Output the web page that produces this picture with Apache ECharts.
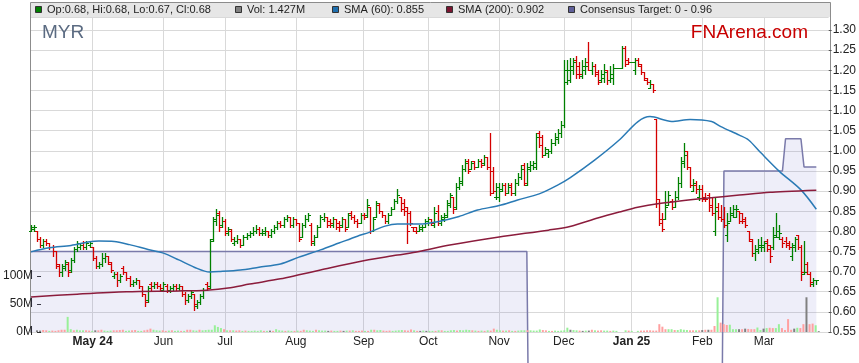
<!DOCTYPE html>
<html><head><meta charset="utf-8">
<script src="https://cdn.jsdelivr.net/npm/echarts@6/dist/echarts.min.js"></script>
<style>html,body{margin:0;padding:0;background:#fff}#c{width:859px;height:363px}</style>
</head><body><div id="c"></div>
<script>
// ---- data -------------------------------------------------------------
// trading calendar: every weekday from first to last day (axis runs to Apr 1 2025)
const FIRST_DAY = '2024-04-03';
const LAST_DAY = '2025-04-01';
const LAST_LABEL_DAY = '2025-03-26';
const categories = (function () {
  const out = [];
  const d = new Date(FIRST_DAY + 'T00:00:00Z');
  const end = new Date(LAST_DAY + 'T00:00:00Z');
  while (d <= end) {
    const wd = d.getUTCDay();
    if (wd !== 0 && wd !== 6) out.push(d.toISOString().slice(0, 10));
    d.setUTCDate(d.getUTCDate() + 1);
  }
  return out;
})();

// daily bars [open, high, low, close], from 2024-04-03
const ohlc = [
[.80,.815,.80,.81],[.805,.815,.80,.81],[.80,.80,.775,.78],[.78,.785,.76,.765],[.765,.78,.76,.775],[.775,.78,.765,.77],[.77,.77,.755,.76],[.76,.765,.74,.75],[.75,.75,.71,.715],[.72,.72,.69,.70],
[.70,.72,.69,.715],[.71,.73,.705,.725],[.72,.725,.69,.70],[.705,.735,.70,.73],[.73,.76,.725,.755],[.755,.775,.75,.77],[.76,.77,.755,.765],[.77,.775,.755,.76],[.76,.775,.755,.77],[.765,.775,.76,.77],
[.76,.76,.73,.735],[.735,.74,.71,.715],[.715,.725,.71,.72],[.72,.745,.715,.735],[.735,.745,.725,.74],[.74,.74,.72,.725],[.72,.725,.70,.705],[.69,.70,.685,.695],[.695,.70,.665,.68],[.68,.695,.675,.69],
[.71,.715,.695,.70],[.70,.70,.68,.685],[.685,.69,.665,.67],[.67,.68,.665,.675],[.675,.685,.67,.68],[.68,.68,.66,.665],[.665,.665,.64,.645],[.645,.645,.615,.625],[.63,.665,.625,.66],[.67,.675,.655,.665],
[.665,.675,.66,.67],[.67,.675,.66,.665],[.665,.67,.655,.66],[.655,.675,.655,.67],[.665,.67,.65,.655],[.655,.665,.65,.66],[.66,.67,.655,.665],[.665,.67,.655,.66],[.66,.67,.655,.665],[.665,.665,.64,.645],
[.645,.65,.62,.63],[.63,.645,.625,.64],[.64,.655,.635,.65],[.645,.645,.605,.62],[.615,.63,.61,.625],[.625,.645,.62,.64],[.64,.66,.635,.655],[.67,.675,.655,.66],[.665,.78,.66,.775],[.78,.835,.775,.83],
[.825,.855,.815,.84],[.845,.85,.80,.81],[.815,.835,.81,.825],[.825,.83,.79,.80],[.795,.81,.79,.805],[.80,.805,.775,.78],[.77,.785,.765,.775],[.775,.79,.77,.78],[.78,.78,.76,.765],[.765,.79,.765,.785],
[.785,.795,.78,.79],[.79,.80,.785,.795],[.795,.81,.79,.80],[.80,.815,.795,.805],[.805,.81,.79,.795],[.795,.805,.79,.80],[.795,.81,.79,.80],[.80,.80,.785,.79],[.79,.805,.785,.80],[.80,.815,.795,.81],
[.81,.825,.805,.82],[.82,.825,.81,.815],[.815,.835,.81,.83],[.83,.84,.825,.835],[.835,.835,.81,.815],[.815,.835,.81,.83],[.83,.83,.815,.82],[.82,.82,.775,.78],[.785,.82,.785,.815],[.815,.84,.81,.83],
[.83,.845,.825,.84],[.815,.82,.765,.775],[.77,.79,.765,.785],[.785,.815,.785,.81],[.81,.84,.81,.835],[.83,.845,.825,.835],[.835,.835,.81,.815],[.825,.83,.81,.82],[.815,.835,.81,.83],[.83,.83,.805,.81],
[.82,.825,.80,.81],[.815,.835,.81,.83],[.83,.83,.80,.805],[.81,.845,.81,.84],[.845,.85,.83,.835],[.835,.84,.82,.825],[.825,.83,.81,.82],[.82,.845,.82,.84],[.84,.845,.83,.835],[.84,.88,.835,.865],
[.86,.86,.795,.80],[.80,.835,.80,.83],[.835,.875,.835,.87],[.865,.87,.845,.85],[.85,.85,.835,.84],[.84,.84,.82,.825],[.825,.845,.82,.84],[.84,.86,.84,.855],[.855,.88,.855,.875],[.875,.905,.87,.89],
[.885,.885,.85,.855],[.87,.88,.84,.85],[.86,.86,.77,.80],[.845,.85,.815,.82],[.81,.81,.80,.80],[.81,.81,.795,.80],[.80,.815,.80,.81],[.805,.815,.80,.81],[.81,.83,.81,.825],[.82,.835,.815,.83],
[.83,.83,.815,.82],[.815,.86,.81,.845],[.85,.865,.815,.82],[.82,.84,.815,.835],[.83,.845,.825,.84],[.835,.877,.835,.87],[.865,.895,.86,.89],[.885,.885,.845,.855],[.86,.92,.855,.91],[.91,.935,.905,.925],
[.92,.965,.915,.955],[.955,.98,.95,.97],[.975,.98,.945,.95],[.955,.975,.955,.97],[.975,.975,.955,.96],[.96,.98,.96,.975],[.975,.98,.96,.965],[.97,.99,.965,.985],[.985,.985,.955,.96],[.96,1.045,.89,.895],
[.95,.96,.895,.90],[.885,.92,.88,.91],[.885,.92,.875,.905],[.90,.92,.90,.915],[.915,.92,.89,.895],[.895,.92,.895,.91],[.915,.92,.89,.895],[.895,.93,.89,.92],[.92,.945,.915,.935],[.935,.965,.93,.955],
[.965,.97,.915,.92],[.915,.97,.915,.96],[.955,.975,.95,.965],[.965,.975,.955,.97],[.96,1.045,.955,1.035],[1.045,1.05,1.01,1.015],[1.035,1.04,.985,.99],[.99,1.01,.99,1.005],[.995,1.005,.985,1.0],[1.0,1.03,.995,1.02],
[1.02,1.045,1.015,1.035],[1.03,1.055,1.02,1.045],[1.045,1.075,1.035,1.065],[1.065,1.225,1.06,1.20],[1.17,1.225,1.165,1.20],[1.175,1.23,1.17,1.21],[1.20,1.23,1.19,1.22],[1.225,1.235,1.18,1.19],[1.21,1.22,1.18,1.19],[1.185,1.225,1.18,1.21],
[1.20,1.23,1.19,1.21],[1.22,1.27,1.20,1.20],[1.20,1.22,1.19,1.21],[1.21,1.215,1.185,1.19],[1.195,1.20,1.165,1.17],[1.175,1.20,1.17,1.19],[1.18,1.215,1.17,1.195],[1.20,1.20,1.165,1.175],[1.175,1.21,1.17,1.19],[1.18,1.215,1.165,1.205],
[1.205,1.205,1.205,1.205],[1.205,1.205,1.205,1.205],[1.205,1.26,1.205,1.255],[1.255,1.26,1.21,1.215],[1.225,1.23,1.215,1.22],[1.22,1.22,1.22,1.22],[1.20,1.23,1.19,1.225],[1.225,1.23,1.21,1.215],[1.21,1.215,1.19,1.195],[1.195,1.195,1.175,1.18],
[1.175,1.18,1.165,1.17],[1.155,1.175,1.155,1.165],[1.165,1.165,1.145,1.15],[1.08,1.08,.86,.87],[.88,.88,.815,.82],[.83,.845,.80,.805],[.83,.90,.83,.86],[.865,.90,.865,.89],[.875,.88,.855,.86],[.86,.90,.86,.885],
[.885,.935,.88,.92],[.92,.985,.91,.97],[.975,1.02,.96,.99],[1.0,1.0,.955,.96],[.96,.96,.91,.915],[.90,.93,.90,.92],[.915,.925,.895,.905],[.885,.915,.878,.905],[.905,.915,.875,.88],[.885,.895,.875,.88],
[.89,.895,.85,.86],[.865,.885,.84,.845],[.80,.885,.79,.85],[.86,.87,.83,.835],[.835,.865,.825,.83],[.83,.86,.81,.815],[.79,.845,.775,.82],[.825,.86,.825,.845],[.84,.865,.835,.855],[.835,.865,.835,.855],
[.85,.85,.82,.825],[.845,.845,.82,.825],[.83,.835,.81,.815],[.80,.80,.775,.78],[.775,.78,.74,.745],[.745,.765,.73,.755],[.75,.78,.745,.765],[.76,.785,.75,.765],[.76,.775,.75,.77],[.775,.78,.75,.755],
[.765,.765,.725,.74],[.76,.81,.755,.79],[.785,.845,.785,.80],[.785,.815,.78,.795],[.78,.785,.76,.77],[.775,.785,.76,.765],[.77,.775,.755,.76],[.74,.77,.73,.76],[.765,.785,.75,.78],[.79,.79,.755,.76],
[.76,.765,.68,.70],[.695,.775,.695,.70],[.72,.725,.695,.695],[.695,.70,.665,.675],[.67,.685,.665,.68],[.68,.68,.67,.68]
];

// daily volume, millions of shares
const volumeM = [
3,2.5,3.5,3,2,2.5,2,3,4,4, 27,5,3,4,3,3,3,2.5,2,3, 3,4,2.5,2,2.5,3,3,3.5,4,2, 2.5,3,3.5,2,2,3,4,6,4,3,
2.5,3,2,2.5,3,2,2.5,2,2,4, 4,3,2.5,4,3,3.5,4,4,12,9, 7,5,3,3,3,2.5,3,2,2.5,2, 2,2.5,2,3,2,2,2.5,2,5,3,
2.5,2,2.5,2,2,2.5,2,4,3,2.5, 2,4,3,2.5,2.5,2,2.5,2,2,2.5, 2,2.5,2.5,3,2,2,2.5,2,2,4, 4,3,3.5,2.5,2,2.5,2,2.5,3,3.5,
3,2.5,4.5,3,2,2,2.5,2,2,2, 2,3,3,2,2,3,3.5,2.5,3.5,3, 4,3.5,3,2.5,2,2.5,2,3,2.5,6, 4,3,2.5,2.5,3,2,2,2.5,3,3,
3,3,2.5,2.5,4.5,3.5,3,2,2,2.5, 2,2.5,3,7.7,4,3.5,3,2.5,2,2.5, 2.5,4,3,2.5,3,2.5,2.5,2,2.5,2, 0,0,3,2.5,2,0,2,2.5,2.5,3,
3,2.5,2.5,14,9.5,5,5,5,3.5,3.5, 5,4,3.5,3,3,3,3,3.5,4,4, 4,10.7,62,16.7,14,12.5,13,5,5,5, 5,6,5.5,5,5,8,3.5,6,7,7.5,
7,7,14,7,3.5,23,4,6,7.5,7, 14,62,14,15,12,1.427
];

// moving averages [date, value]
const sma60 = [
['2024-04-03',.749],['2024-04-11',.759],['2024-04-22',.765],['2024-04-30',.774],['2024-05-03',.776],['2024-05-10',.775],
['2024-05-17',.767],['2024-05-27',.755],['2024-06-03',.746],['2024-06-10',.729],['2024-06-17',.711],['2024-06-24',.699],
['2024-06-27',.700],['2024-07-08',.704],['2024-07-16',.711],['2024-07-25',.719],['2024-08-02',.736],['2024-08-13',.754],
['2024-08-21',.771],['2024-08-29',.788],['2024-09-04',.798],['2024-09-11',.813],['2024-09-17',.818],['2024-09-26',.818],
['2024-10-04',.824],['2024-10-15',.837],['2024-10-23',.853],['2024-11-01',.864],['2024-11-11',.878],['2024-11-20',.893],
['2024-11-28',.915],['2024-12-04',.933],['2024-12-16',.977],['2024-12-26',1.027],['2025-01-03',1.072],['2025-01-09',1.085],
['2025-01-20',1.073],['2025-01-28',1.078],['2025-02-06',1.073],['2025-02-11',1.060],['2025-02-19',1.039],['2025-02-24',1.027],
['2025-02-28',.995],['2025-03-10',.949],['2025-03-19',.903],['2025-03-26',.855]
];
const sma200 = [
['2024-04-03',.637],['2024-04-24',.644],['2024-05-16',.650],['2024-06-10',.652],['2024-06-21',.654],['2024-07-02',.659],
['2024-07-11',.669],['2024-07-25',.682],['2024-08-02',.692],['2024-08-13',.704],['2024-08-29',.724],['2024-09-17',.741],
['2024-09-26',.750],['2024-10-10',.766],['2024-11-01',.786],['2024-11-25',.803],['2024-12-04',.812],['2024-12-17',.833],
['2024-12-26',.848],['2025-01-03',.860],['2025-01-14',.869],['2025-02-04',.882],['2025-02-19',.890],['2025-03-05',.897],
['2025-03-26',.902]
];
// consensus target (0 = no target)
const consensusTarget = [
['2024-04-03',.75],['2024-11-14',.75],['2024-11-15',0],['2025-02-11',0],['2025-02-12',.95],
['2025-03-11',.95],['2025-03-12',1.03],['2025-03-19',1.03],['2025-03-20',.96],['2025-03-26',.96]
];

const legendItems = [
  {text:'Op:0.68, Hi:0.68, Lo:0.67, Cl:0.68', color:'#008000'},
  {text:'Vol: 1.427M', color:'#808080'},
  {text:'SMA (60): 0.855', color:'#1f6fae'},
  {text:'SMA (200): 0.902', color:'#7a1530'},
  {text:'Consensus Target: 0 - 0.96', color:'#60609a'}
];
const MONTHS = ['Jan','Feb','Mar','Apr','May','Jun','Jul','Aug','Sep','Oct','Nov','Dec'];

// ---- styling / layout ----------------------------------------------------
const FONT = '"Liberation Sans", Arial, sans-serif';
const UP = '#008000', DOWN = '#d40000';
const VOL_UP = '#98f098', VOL_DOWN = '#ffa0a0', VOL_FLAT = '#808080';
const legendX = [35, 235, 332, 446, 568];

function isMonthStart(i) {
  return i > 0 && categories[i] <= LAST_LABEL_DAY &&
    categories[i].slice(5, 7) !== categories[i - 1].slice(5, 7);
}
let firstLabelDate = null;
for (let i = 0; i < categories.length; i++) { if (isMonthStart(i)) { firstLabelDate = categories[i]; break; } }

function renderOHLC(params, api) {
  const idx = api.value(0);
  const o = api.value(1), h = api.value(2), l = api.value(3), c = api.value(4);
  const po = api.coord([idx, o]), ph = api.coord([idx, h]), pl = api.coord([idx, l]), pc = api.coord([idx, c]);
  const X = Math.round(po[0]);
  const x = X + 0.5;
  const yo = Math.round(po[1]) + 0.5, yc = Math.round(pc[1]) + 0.5;
  const yh = Math.round(ph[1]), yl = Math.max(Math.round(pl[1]) + 1, yh + 1);
  const color = c >= o ? UP : DOWN;
  const st = {stroke: color, lineWidth: 1.3};
  const stt = {stroke: color, lineWidth: 1};
  return {type: 'group', children: [
    {type: 'line', shape: {x1: x, y1: yh, x2: x, y2: yl}, style: st},
    {type: 'line', shape: {x1: X - 2, y1: yo, x2: X + 0.5, y2: yo}, style: stt},
    {type: 'line', shape: {x1: X + 0.5, y1: yc, x2: X + 3, y2: yc}, style: stt}
  ]};
}

const graphics = [
  {type: 'rect', z: 0, shape: {x: 31, y: 2, width: 800, height: 15}, style: {fill: '#e6e6e6'}},
  {type: 'rect', z: 0, shape: {x: 30.5, y: 2.5, width: 800, height: 330}, style: {fill: 'none', stroke: '#8c8c8c', lineWidth: 1}},
  {type: 'text', z: 10, style: {text: 'MYR', x: 42, y: 33, fill: '#5b6b82', font: '19px ' + FONT, textVerticalAlign: 'middle'}},
  {type: 'text', z: 10, style: {text: 'FNArena.com', x: 808, y: 33, fill: '#c80000', font: '19px ' + FONT, textAlign: 'right', textVerticalAlign: 'middle'}}
];
legendItems.forEach((it, k) => {
  graphics.push({type: 'rect', z: 10, shape: {x: legendX[k] + 0.5, y: 6.5, width: 6, height: 6}, style: {fill: it.color, stroke: '#333', lineWidth: 1}});
  graphics.push({type: 'text', z: 10, style: {text: it.text, x: legendX[k] + 12, y: 10, fill: '#222', font: '11px ' + FONT, textVerticalAlign: 'middle'}});
});

const chart = echarts.init(document.getElementById('c'), null, {renderer: 'canvas'});
chart.setOption({
  animation: false,
  backgroundColor: '#fff',
  graphic: graphics,
  grid: [
    {left: 31, right: 28, top: 17, bottom: 31},
    {left: 31, right: 28, top: 276, bottom: 31}
  ],
  xAxis: [
    {type: 'category', gridIndex: 0, data: categories, boundaryGap: false,
     axisLine: {show: false}, axisTick: {show: false},
     axisLabel: {
       interval: (i) => isMonthStart(i), margin: 4, color: '#222', fontSize: 12, fontFamily: FONT,
       formatter: (v) => {
         const m = +v.slice(5, 7);
         if (m === 1 || v === firstLabelDate) return '{b|' + MONTHS[m - 1] + ' ' + v.slice(2, 4) + '}';
         return MONTHS[m - 1];
       },
       rich: {b: {fontWeight: 'bold', fontSize: 12, color: '#222', fontFamily: FONT}}
     },
     splitLine: {show: true, interval: (i) => isMonthStart(i), lineStyle: {color: '#d9d9d9', width: 1}}},
    {type: 'category', gridIndex: 1, data: categories, boundaryGap: false, show: false}
  ],
  yAxis: [
    {type: 'value', gridIndex: 0, position: 'right', min: 0.55, max: 1.3324, interval: 0.05,
     axisLine: {show: false}, axisTick: {show: true, length: 3, lineStyle: {color: '#555'}},
     axisLabel: {formatter: (v) => v.toFixed(2), showMaxLabel: false, margin: 4, color: '#222', fontSize: 12, fontFamily: FONT},
     splitLine: {show: true, lineStyle: {color: '#d9d9d9', width: 1}}},
    {type: 'value', gridIndex: 1, position: 'left', min: 0, max: 100, interval: 50,
     axisLine: {show: false}, axisTick: {show: true, inside: true, length: 4, lineStyle: {color: '#333'}},
     axisLabel: {formatter: (v) => v + 'M', margin: 4, color: '#222', fontSize: 12, fontFamily: FONT},
     splitLine: {show: false}}
  ],
  series: [
    {type: 'line', xAxisIndex: 0, yAxisIndex: 0, data: consensusTarget, symbol: 'none', silent: true,
     lineStyle: {width: 0}, areaStyle: {color: 'rgba(120,120,210,0.18)'}, z: 1},
    {type: 'line', xAxisIndex: 0, yAxisIndex: 0, data: consensusTarget, symbol: 'none', silent: true, clip: false,
     lineStyle: {color: '#7a7aaa', width: 1.5}, z: 2},
    {type: 'bar', xAxisIndex: 1, yAxisIndex: 1, data: volumeM, barWidth: 2, silent: true, z: 3,
     itemStyle: {color: (p) => {
       const i = p.dataIndex;
       const c = ohlc[i][3], pc = i > 0 ? ohlc[i - 1][3] : c;
       return c > pc ? VOL_UP : (c < pc ? VOL_DOWN : VOL_FLAT);
     }}},
    {type: 'custom', xAxisIndex: 0, yAxisIndex: 0, renderItem: renderOHLC, silent: true, z: 4,
     data: ohlc.map((r, i) => [i, r[0], r[1], r[2], r[3]]), encode: {x: 0, y: [1, 2, 3, 4]}},
    {type: 'line', xAxisIndex: 0, yAxisIndex: 0, data: sma60, smooth: 0.3, symbol: 'none', silent: true,
     lineStyle: {color: '#2a7ab5', width: 1.5}, z: 5},
    {type: 'line', xAxisIndex: 0, yAxisIndex: 0, data: sma200, smooth: 0.3, symbol: 'none', silent: true,
     lineStyle: {color: '#8b1c3c', width: 1.5}, z: 5}
  ]
});
</script>
</body></html>
